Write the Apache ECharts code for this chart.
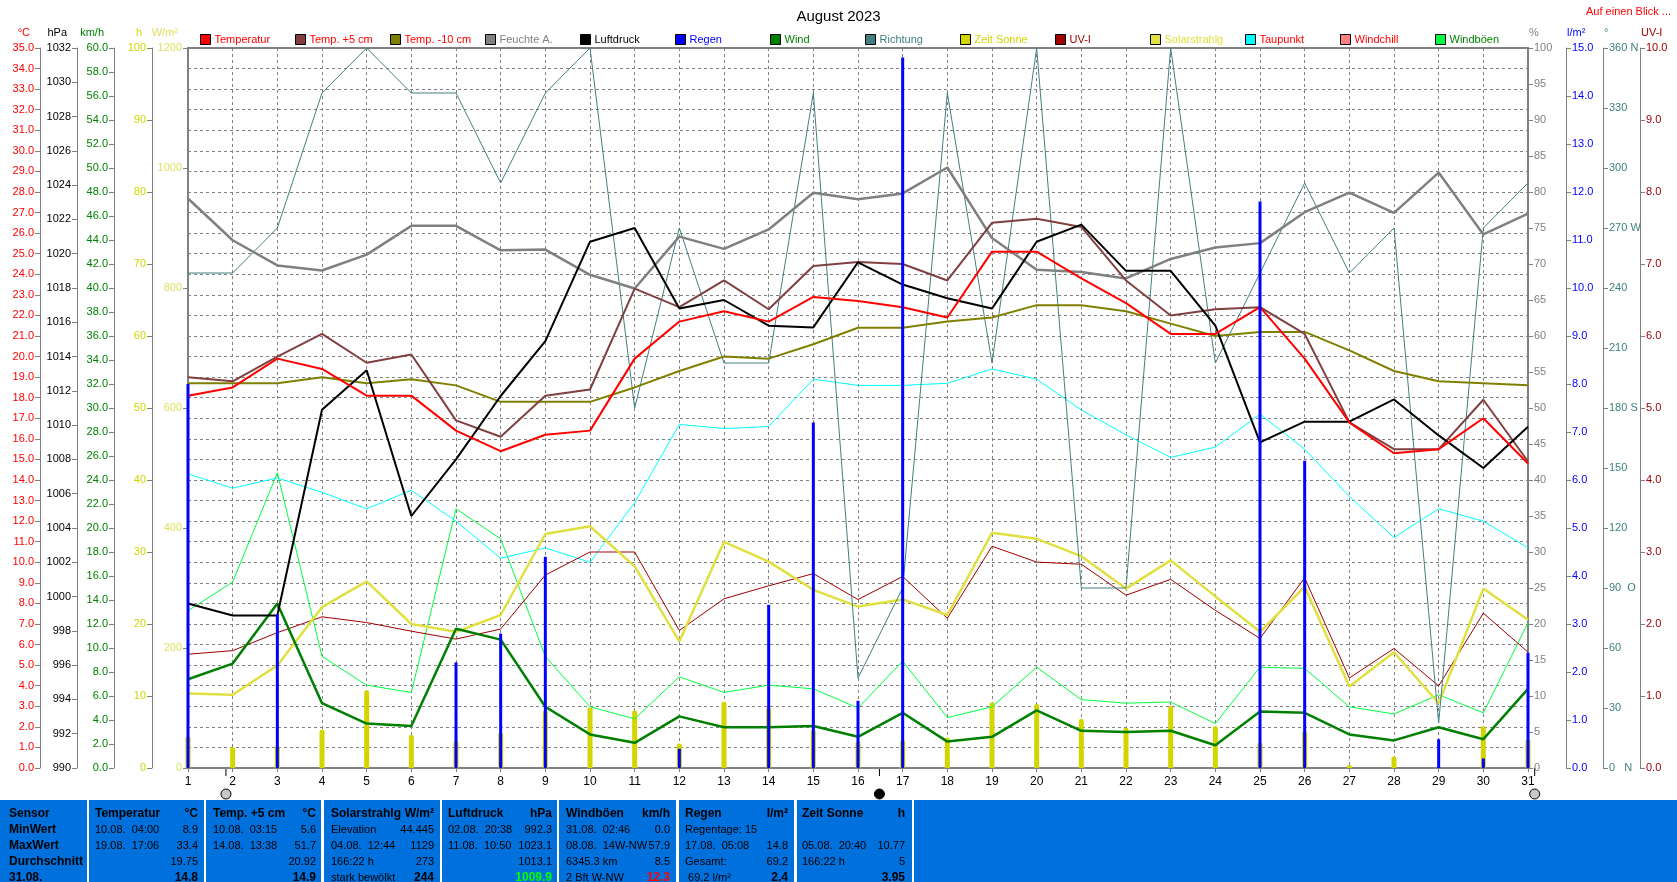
<!DOCTYPE html>
<html>
<head>
<meta charset="utf-8">
<title>August 2023</title>
<script src="https://cdn.jsdelivr.net/npm/echarts@6.0.0/dist/echarts.min.js"></script>
<style>
    html, body { margin: 0; padding: 0; background: #fff; }
    #chart { width: 1677px; height: 882px; }
</style>
</head>
<body>
<div id="chart"></div>
<script>
// Tage im August
var days = [1,2,3,4,5,6,7,8,9,10,11,12,13,14,15,16,17,18,19,20,21,22,23,24,25,26,27,28,29,30,31];

// Tageswerte
var temperatur = [18.1,18.5,19.9,19.4,18.1,18.1,16.4,15.4,16.2,16.4,19.9,21.7,22.2,21.7,22.9,22.7,22.4,21.9,25.1,25.1,23.8,22.6,21.1,21.1,22.4,19.9,16.8,15.3,15.5,17.0,14.8];
var temp5cm = [19.0,18.8,20.0,21.1,19.7,20.1,16.9,16.1,18.1,18.4,23.3,22.4,23.7,22.3,24.4,24.6,24.5,23.7,26.5,26.7,26.3,23.7,22.0,22.3,22.4,21.1,16.8,15.5,15.5,17.9,14.9];
var temp10cm = [18.7,18.7,18.7,19.0,18.7,18.9,18.6,17.8,17.8,17.8,18.5,19.3,20.0,19.9,20.6,21.4,21.4,21.7,21.9,22.5,22.5,22.2,21.6,21.0,21.2,21.2,20.3,19.3,18.8,18.7,18.6];
var feuchte = [79.1,73.3,69.8,69.1,71.3,75.3,75.3,71.9,72.0,68.5,66.6,73.8,72.1,74.8,79.9,79.0,79.8,83.4,73.6,69.2,68.9,68.0,70.7,72.3,72.9,77.2,79.9,77.1,82.7,74.1,77.0];
var luftdruck = [999.6,998.9,998.9,1010.9,1013.2,1004.7,1008.0,1011.7,1014.9,1020.7,1021.5,1016.8,1017.3,1015.8,1015.7,1019.5,1018.2,1017.4,1016.8,1020.7,1021.7,1019.0,1019.0,1015.8,1009.0,1010.2,1010.2,1011.5,1009.4,1007.5,1009.9];
var regen = [8.0,0,3.2,0,0,0,2.2,2.8,4.4,0,0,0.4,0,3.4,7.2,1.4,14.8,0,0,0,0,0,0,0,11.8,6.4,0,0,0.6,0.2,2.4];
var wind = [7.4,8.7,13.7,5.4,3.7,3.5,11.6,10.7,5.1,2.8,2.1,4.3,3.4,3.4,3.5,2.6,4.6,2.2,2.6,4.8,3.1,3.0,3.1,1.9,4.7,4.6,2.8,2.3,3.4,2.4,6.6];
var richtung = [247.5,247.5,270,337.5,360,337.5,337.5,292.5,337.5,360,180,270,202.5,202.5,337.5,45,90,337.5,202.5,360,90,90,360,202.5,247.5,292.5,247.5,270,22.5,270,292.5];
var zeitSonne = [4.4,2.9,3.1,5.3,10.77,4.6,3.8,4.9,8.0,8.4,8.0,3.4,9.2,8.4,5.3,3.7,3.9,4.2,9.1,8.9,6.8,5.6,8.6,5.8,3.5,5.1,0.4,1.6,0,5.8,3.95];
var uvIndex = [1.58,1.63,1.88,2.1,2.02,1.9,1.79,1.93,2.68,3.0,3.0,1.91,2.35,2.53,2.7,2.34,2.66,2.08,3.08,2.86,2.83,2.4,2.62,2.19,1.8,2.64,1.25,1.66,1.14,2.15,1.61];
var solar = [124,122,171,268,311,240,227,255,390,403,336,211,377,344,297,269,281,255,392,382,353,299,346,286,227,302,136,193,108,299,247];
var taupunkt = [14.3,13.6,14.1,13.4,12.6,13.5,12.0,10.2,10.7,10.0,12.9,16.7,16.5,16.6,18.9,18.6,18.6,18.7,19.4,18.9,17.4,16.2,15.1,15.6,17.2,15.5,13.2,11.2,12.6,12.0,10.7];
var windboeen = [13.1,15.5,24.6,9.3,6.9,6.3,21.6,19.1,9.3,5.1,4.1,7.6,6.3,6.9,6.6,5.0,8.9,4.2,5.1,8.4,5.7,5.4,5.5,3.7,8.4,8.3,5.1,4.5,6.1,4.6,12.1];

// Mondphasen (Tag mit Uhrzeit als Bruchteil), voll / neu
var mondTage = [1.85, 16.48, 31.15];
var mondArt = ['voll', 'neu', 'voll'];

// Beschriftung der Richtungsachse
var richtungLabels = {0: '0   N', 90: '90  O', 180: '180 S', 270: '270 W', 360: '360 N'};

function pairs(values) {
    return days.map(function (d, i) { return [d, values[i]]; });
}

var grau = '#808080';

function yAchse(opt) {
    var links = opt.position === 'left';
    return {
        type: 'value',
        position: opt.position,
        offset: opt.offset,
        min: opt.min,
        max: opt.max,
        interval: opt.interval,
        name: opt.name,
        nameLocation: 'end',
        nameGap: 10,
        nameTextStyle: {
            color: opt.color,
            fontFamily: 'Liberation Sans',
            fontSize: 11,
            align: links ? 'right' : 'left',
            padding: links ? [0, 10, 0, 0] : [0, 0, 0, 1]
        },
        axisLine: { show: true, lineStyle: { color: grau, width: opt.lineWidth || 1 } },
        axisTick: { show: true, length: 5, lineStyle: { color: grau } },
        axisLabel: {
            color: opt.color,
            fontFamily: 'Liberation Sans',
            fontSize: 11,
            margin: 6,
            formatter: opt.formatter || function (v) { return String(v); }
        },
        splitLine: opt.split ? { show: true, lineStyle: { color: grau, type: [3, 3], width: 1 } } : { show: false }
    };
}

var myChart = echarts.init(document.getElementById('chart'));

var legendItems = [
    ['Temperatur', '#ff0000'], ['Temp. +5 cm', '#ff0000'], ['Temp. -10 cm', '#ff0000'],
    ['Feuchte A.', '#808080'], ['Luftdruck', '#000000'], ['Regen', '#0000ff'],
    ['Wind', '#008000'], ['Richtung', '#408080'], ['Zeit Sonne', '#d4d400'],
    ['UV-I', '#a00000'], ['Solarstrahlg', '#e0e040'], ['Taupunkt', '#ff0000'],
    ['Windchill', '#ff0000'], ['Windböen', '#008000']
];

var legends = legendItems.map(function (it, i) {
    return {
        data: [it[0]],
        left: 195 + i * 95,
        top: 29,
        icon: 'rect',
        itemWidth: 10,
        itemHeight: 10,
        itemGap: 0,
        itemStyle: { borderColor: '#000', borderWidth: 1 },
        textStyle: { color: it[1], fontFamily: 'Liberation Sans', fontSize: 11, padding: [0, 0, 0, -1] },
        selectedMode: false
    };
});

// Tabelle unter dem Diagramm
var tableTop = 800;
var rowY = [814, 830, 846, 862, 878];
var tableCols = [
    { x0: 0, x1: 87, lx: 9, rx: 0, head: ['Sensor', ''], rows: [['MinWert', ''], ['MaxWert', ''], ['Durchschnitt', ''], ['31.08.', '']], boldLeft: true },
    { x0: 89, x1: 204, lx: 95, rx: 198, head: ['Temperatur', '°C'], rows: [['10.08.  04:00', '8.9'], ['19.08.  17:06', '33.4'], ['', '19.75'], ['', '14.8']] },
    { x0: 206, x1: 321, lx: 213, rx: 316, head: ['Temp. +5 cm', '°C'], rows: [['10.08.  03:15', '5.6'], ['14.08.  13:38', '51.7'], ['', '20.92'], ['', '14.9']] },
    { x0: 324, x1: 440, lx: 331, rx: 434, head: ['Solarstrahlg', 'W/m²'], rows: [['Elevation', '44.445'], ['04.08.  12:44', '1129'], ['166:22 h', '273'], ['stark bewölkt', '244']] },
    { x0: 442, x1: 557, lx: 448, rx: 552, head: ['Luftdruck', 'hPa'], rows: [['02.08.  20:38', '992.3'], ['11.08.  10:50', '1023.1'], ['', '1013.1'], ['', '1009.9']], lastColor: '#00ff00' },
    { x0: 559, x1: 676, lx: 566, rx: 670, head: ['Windböen', 'km/h'], rows: [['31.08.  02:46', '0.0'], ['08.08.  14W-NW', '57.9'], ['6345.3 km', '8.5'], ['2 Bft W-NW', '12.3']], lastColor: '#ff0000' },
    { x0: 679, x1: 794, lx: 685, rx: 788, head: ['Regen', 'l/m²'], rows: [['Regentage: 15', ''], ['17.08.  05:08', '14.8'], ['Gesamt:', '69.2'], [' 69.2 l/m²', '2.4']] },
    { x0: 797, x1: 912, lx: 802, rx: 905, head: ['Zeit Sonne', 'h'], rows: [['', ''], ['05.08.  20:40', '10.77'], ['166:22 h', '5'], ['', '3.95']] },
    { x0: 914, x1: 1677, lx: 0, rx: 0, head: ['', ''], rows: [] }
];

var graphics = [];
tableCols.forEach(function (c) {
    graphics.push({
        type: 'rect',
        shape: { x: c.x0, y: tableTop, width: c.x1 - c.x0, height: 882 - tableTop },
        style: { fill: '#0070dc' },
        silent: true
    });
    var lines = [c.head].concat(c.rows);
    lines.forEach(function (r, i) {
        var head = i === 0;
        var last = i === 4;
        if (r[0]) {
            graphics.push({
                type: 'text',
                style: {
                    text: r[0], x: c.lx, y: rowY[i],
                    font: (head || c.boldLeft) ? 'bold 12px Liberation Sans' : '11px Liberation Sans',
                    fill: '#000', textVerticalAlign: 'middle'
                },
                silent: true
            });
        }
        if (r[1]) {
            graphics.push({
                type: 'text',
                style: {
                    text: r[1], x: c.rx, y: rowY[i],
                    font: (head || last) ? 'bold 12px Liberation Sans' : '11px Liberation Sans',
                    fill: (last && c.lastColor) ? c.lastColor : '#000',
                    textAlign: 'right', textVerticalAlign: 'middle'
                },
                silent: true
            });
        }
    });
});

graphics.push({
    type: 'text',
    right: 6,
    top: 6,
    style: { text: 'Auf einen Blick ...', font: '11px Liberation Sans', fill: '#ff0000' }
});

var option = {
    animation: false,
    backgroundColor: '#ffffff',
    title: {
        text: 'August 2023',
        left: 'center',
        top: 4,
        textStyle: { color: '#000', fontFamily: 'Liberation Sans', fontSize: 15, fontWeight: 'normal' }
    },
    legend: legends,
    grid: {
        left: 188, right: 149, top: 48, bottom: 114,
        show: true, borderColor: grau, borderWidth: 2
    },
    xAxis: [
        {
            type: 'value', min: 1, max: 31, interval: 1,
            axisLine: { show: true, lineStyle: { color: grau, width: 2 } },
            axisTick: { show: true, length: 4, lineStyle: { color: grau } },
            axisLabel: { color: '#000', fontFamily: 'Liberation Sans', fontSize: 12, margin: 8 },
            splitLine: { show: true, lineStyle: { color: grau, type: [3, 3], width: 1 } }
        },
        { type: 'value', min: 1, max: 31, interval: 1, show: false }
    ],
    yAxis: [
        yAchse({ position: 'left', offset: 148, min: 0, max: 35, interval: 1, name: '°C', color: '#ff0000', split: true,
                 formatter: function (v) { return v.toFixed(1); } }),
        yAchse({ position: 'left', offset: 111, min: 990, max: 1032, interval: 2, name: 'hPa', color: '#000000' }),
        yAchse({ position: 'left', offset: 74, min: 0, max: 60, interval: 2, name: 'km/h', color: '#008000',
                 formatter: function (v) { return v.toFixed(1); } }),
        yAchse({ position: 'left', offset: 36, min: 0, max: 100, interval: 10, name: 'h', color: '#d4d400' }),
        yAchse({ position: 'left', offset: 0, min: 0, max: 1200, interval: 200, name: 'W/m²', color: '#e0e060', lineWidth: 2 }),
        yAchse({ position: 'right', offset: 0, min: 0, max: 100, interval: 5, name: '%', color: '#808080', lineWidth: 2 }),
        yAchse({ position: 'right', offset: 38, min: 0, max: 15, interval: 1, name: 'l/m²', color: '#0000ff',
                 formatter: function (v) { return v.toFixed(1); } }),
        yAchse({ position: 'right', offset: 75, min: 0, max: 360, interval: 30, name: '°', color: '#408080',
                 formatter: function (v) { return richtungLabels[v] || String(v); } }),
        yAchse({ position: 'right', offset: 112, min: 0, max: 10, interval: 1, name: 'UV-I', color: '#a00000',
                 formatter: function (v) { return v.toFixed(1); } })
    ],
    series: [
        { name: 'Zeit Sonne', type: 'bar', xAxisIndex: 0, yAxisIndex: 3, barWidth: 5, z: 2,
          itemStyle: { color: '#d4d400', borderRadius: [2, 2, 0, 0] }, data: pairs(zeitSonne) },
        { name: 'Windböen', type: 'line', yAxisIndex: 2, showSymbol: false, z: 3,
          lineStyle: { color: '#00ff40', width: 1 }, itemStyle: { color: '#00ff40' }, data: pairs(windboeen) },
        { name: 'Taupunkt', type: 'line', yAxisIndex: 0, showSymbol: false, z: 3,
          lineStyle: { color: '#00ffff', width: 1 }, itemStyle: { color: '#00ffff' }, data: pairs(taupunkt) },
        { name: 'UV-I', type: 'line', yAxisIndex: 8, showSymbol: false, z: 3,
          lineStyle: { color: '#a00000', width: 1 }, itemStyle: { color: '#a00000' }, data: pairs(uvIndex) },
        { name: 'Solarstrahlg', type: 'line', yAxisIndex: 4, showSymbol: false, z: 3,
          lineStyle: { color: '#e0e040', width: 2.5 }, itemStyle: { color: '#e0e040' }, data: pairs(solar) },
        { name: 'Richtung', type: 'line', yAxisIndex: 7, showSymbol: false, z: 3,
          lineStyle: { color: '#408080', width: 1 }, itemStyle: { color: '#408080' }, data: pairs(richtung) },
        { name: 'Wind', type: 'line', yAxisIndex: 2, showSymbol: false, z: 4,
          lineStyle: { color: '#008000', width: 2.5 }, itemStyle: { color: '#008000' }, data: pairs(wind) },
        { name: 'Feuchte A.', type: 'line', yAxisIndex: 5, showSymbol: false, z: 4,
          lineStyle: { color: '#808080', width: 2.5 }, itemStyle: { color: '#808080' }, data: pairs(feuchte) },
        { name: 'Temp. -10 cm', type: 'line', yAxisIndex: 0, showSymbol: false, z: 4,
          lineStyle: { color: '#808000', width: 2 }, itemStyle: { color: '#808000' }, data: pairs(temp10cm) },
        { name: 'Temp. +5 cm', type: 'line', yAxisIndex: 0, showSymbol: false, z: 4,
          lineStyle: { color: '#804040', width: 2 }, itemStyle: { color: '#804040' }, data: pairs(temp5cm) },
        { name: 'Luftdruck', type: 'line', yAxisIndex: 1, showSymbol: false, z: 4,
          lineStyle: { color: '#000000', width: 2 }, itemStyle: { color: '#000000' }, data: pairs(luftdruck) },
        { name: 'Windchill', type: 'line', yAxisIndex: 0, showSymbol: false,
          lineStyle: { color: '#ff8080', width: 2 }, itemStyle: { color: '#ff8080' }, data: [] },
        { name: 'Temperatur', type: 'line', yAxisIndex: 0, showSymbol: false, z: 5,
          lineStyle: { color: '#ff0000', width: 2 }, itemStyle: { color: '#ff0000' }, data: pairs(temperatur) },
        { name: 'Regen', type: 'bar', xAxisIndex: 1, yAxisIndex: 6, barWidth: 3, z: 6,
          itemStyle: { color: '#0000ff' }, data: pairs(regen) }
    ],
    graphic: graphics
};

myChart.setOption(option);

// Mondsymbole unter der x-Achse, Lage über die Achse des Diagramms
var achseY = myChart.convertToPixel({ yAxisIndex: 0 }, 0);
mondTage.forEach(function (t, i) {
    var x = myChart.convertToPixel({ xAxisIndex: 0 }, t);
    graphics.push({
        type: 'line',
        shape: { x1: x, y1: achseY, x2: x, y2: achseY + 8 },
        style: { stroke: '#000', lineWidth: 1 },
        silent: true
    });
    graphics.push({
        type: 'circle',
        shape: { cx: x, cy: achseY + 26, r: 5 },
        style: mondArt[i] === 'neu'
            ? { fill: '#000', stroke: '#000', lineWidth: 1 }
            : { fill: '#c8c8c8', stroke: '#000', lineWidth: 1 },
        silent: true
    });
});
myChart.setOption({ graphic: graphics });
</script>
</body>
</html>
